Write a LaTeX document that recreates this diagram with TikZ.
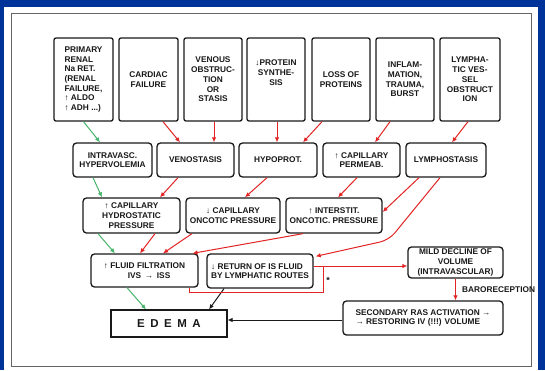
\documentclass[tikz,border=0pt]{standalone}
\usepackage{fontspec}
\setmainfont{Liberation Sans}
\usetikzlibrary{arrows.meta}
\definecolor{slideblue}{RGB}{0,51,153}
\definecolor{arrred}{RGB}{226,36,36}
\definecolor{arrgreen}{RGB}{70,180,105}
\definecolor{inkc}{RGB}{25,25,25}
\newcommand{\up}{↑}
\newcommand{\dn}{↓}
\newcommand{\ra}{→}
\tikzset{
  boxbase/.style={draw=inkc, line width=1.3pt, text=inkc, inner sep=1pt,
    font=\bfseries\fontsize{8.3}{9.7}\selectfont, align=center},
  causebox/.style={boxbase, rounded corners=2pt},
  stagebox/.style={boxbase, rounded corners=3.5pt},
  edemabox/.style={draw=inkc, line width=1.1pt, text=inkc,
    font=\bfseries\fontsize{11.5}{12}\selectfont},
  tip/.style={-{Latex[length=5pt,width=4.5pt]}},
  redarrow/.style={tip, draw=arrred, line width=1pt},
  greenarrow/.style={tip, draw=arrgreen, line width=1pt},
  blackarrow/.style={tip, draw=inkc, line width=1pt},
  redline/.style={draw=arrred, line width=1pt},
  lbl/.style={text=inkc, font=\bfseries\fontsize{8.3}{9.7}\selectfont, inner sep=0pt}
}
\begin{document}
\begin{tikzpicture}[x=1pt,y=-1pt]
% slide background and frame
\useasboundingbox (0,0) rectangle (545,370);
\fill[slideblue] (0,0) rectangle (545,370);
\fill[white] (4,7) rectangle (538,370);
\draw[gray!80!black, line width=0.8pt] (11,13) rectangle (531,366);

% causes
\node[causebox, minimum width=59pt, minimum height=83pt, align=left] (b1) at (83.5,79.5)
  {PRIMARY\\RENAL\\Na RET.\\(RENAL\\FAILURE,\\\up\ ALDO\\\up\ ADH ...)};
\node[causebox, minimum width=59pt, minimum height=83pt] (b2) at (148.5,79.5) {CARDIAC\\FAILURE};
\node[causebox, minimum width=58pt, minimum height=83pt] (b3) at (213,79.5) {VENOUS\\OBSTRUC-\\TION\\OR\\STASIS};
\node[causebox, minimum width=58pt, minimum height=83pt] (b4) at (276,79.5) {\dn PROTEIN\\SYNTHE-\\SIS\\[4pt]};
\node[causebox, minimum width=58pt, minimum height=83pt] (b5) at (341,79.5) {LOSS OF\\PROTEINS};
\node[causebox, minimum width=58pt, minimum height=83pt] (b6) at (405,79.5) {INFLAM-\\MATION,\\TRAUMA,\\BURST};
\node[causebox, minimum width=60pt, minimum height=83pt] (b7) at (470,79.5) {LYMPHA-\\TIC VES-\\SEL\\OBSTRUCT\\ION};

% mechanisms
\node[stagebox, minimum width=79pt, minimum height=34pt] (r2a) at (112.5,160) {INTRAVASC.\\HYPERVOLEMIA};
\node[stagebox, minimum width=77pt, minimum height=34pt] (r2b) at (195.5,160) {VENOSTASIS};
\node[stagebox, minimum width=78pt, minimum height=34pt] (r2c) at (278,160) {HYPOPROT.};
\node[stagebox, minimum width=77pt, minimum height=34pt] (r2d) at (361.5,160) {\up\ CAPILLARY\\PERMEAB.};
\node[stagebox, minimum width=80pt, minimum height=34pt] (r2e) at (446,160) {LYMPHOSTASIS};

% pressures
\node[stagebox, minimum width=97pt, minimum height=35pt] (r3a) at (131.5,215.5) {\up\ CAPILLARY\\HYDROSTATIC\\PRESSURE};
\node[stagebox, minimum width=94pt, minimum height=35pt] (r3b) at (233,215.5) {\dn\ CAPILLARY\\ONCOTIC PRESSURE};
\node[stagebox, minimum width=96pt, minimum height=35pt] (r3c) at (334,215.5) {\up\ INTERSTIT.\\ONCOTIC. PRESSURE};

% fluid balance
\node[stagebox, minimum width=107pt, minimum height=33pt, align=left] (filt) at (144.5,270.5)
  {\up\ FLUID FILTRATION\\\hspace*{24pt}IVS \,\ra\, ISS};
\node[stagebox, minimum width=106pt, minimum height=34pt, align=left] (ret) at (260,271)
  {\dn\ RETURN OF IS FLUID\\BY LYMPHATIC ROUTES};
\node[stagebox, minimum width=95pt, minimum height=31pt] (mild) at (455.5,262.5)
  {MILD DECLINE OF\\VOLUME\\(INTRAVASCULAR)};
\node[stagebox, minimum width=160pt, minimum height=34pt, align=left] (ras) at (423,318)
  {SECONDARY RAS ACTIVATION \ra\\\ra\ RESTORING IV (!!!) VOLUME};
\node[edemabox, minimum width=116pt, minimum height=27pt] (edema) at (169,323.5)
  {E\hspace{5.5pt}D\hspace{5.5pt}E\hspace{5.5pt}M\hspace{5.5pt}A};

\node[lbl, anchor=west] (baro) at (462,290) {BARORECEPTION};
\node[text=inkc, font=\bfseries\fontsize{9}{9}\selectfont, inner sep=0pt] (star) at (328,280) {*};

% causes -> mechanisms
\draw[greenarrow] (b1.south) -- ([xshift=-12.5pt]r2a.north);
\draw[redarrow] ([xshift=14.5pt]b2.south) -- ([xshift=-15.5pt]r2b.north);
\draw[redarrow] ([xshift=1pt]b3.south) -- ([xshift=18.5pt]r2b.north);
\draw[redarrow] ([xshift=1pt]b4.south) -- ([xshift=-1pt]r2c.north);
\draw[redarrow] ([xshift=-19pt]b5.south) -- ([xshift=25pt]r2c.north);
\draw[redarrow] ([xshift=-15pt]b6.south) -- ([xshift=13.5pt]r2d.north);
\draw[redarrow] ([xshift=-2pt]b7.south) -- ([xshift=6pt]r2e.north);

% mechanisms -> pressures
\draw[greenarrow] ([xshift=-19.5pt]r2a.south) -- ([xshift=-29.5pt]r3a.north);
\draw[redarrow] ([xshift=-17.5pt]r2b.south) -- ([xshift=28.5pt]r3a.north);
\draw[redarrow] ([xshift=-11pt]r2c.south) -- ([xshift=12pt]r3b.north);
\draw[redarrow] ([xshift=-4.5pt]r2d.south) -- ([xshift=4pt]r3c.north);
\draw[redarrow] ([xshift=-27pt]r2e.south) -- ([yshift=3.5pt]r3c.east);
\draw[redarrow, rounded corners=9pt] ([xshift=-6pt]r2e.south) -- (389,240)
  -- ([xshift=2pt,yshift=-3pt]ret.north east);

% pressures -> filtration
\draw[greenarrow] ([xshift=-33.5pt]r3a.south) -- ([xshift=-29.5pt]filt.north);
\draw[redarrow] ([xshift=23.5pt]r3a.south) -- ([xshift=-4.5pt]filt.north);
\draw[redarrow] ([xshift=-41pt]r3b.south) -- ([xshift=18.5pt]filt.north);
\draw[redarrow] ([xshift=-31pt]r3c.south) -- ([xshift=48pt]filt.north);

% outcome
\draw[greenarrow] ([xshift=-17.5pt]filt.south) -- ([xshift=-23pt]edema.north);
\draw[blackarrow] ([xshift=-36pt]ret.south) -- ([xshift=40pt]edema.north);
\coordinate (join) at (323,266);
\draw[redline] ([xshift=44.5pt]filt.south) |- (323,292) -- (join);
\draw[redarrow] ([yshift=5pt]ret.east) -- ([yshift=-3.5pt]mild.west);
\draw[redarrow] (mild.south) -- (mild.south |- ras.north);
\draw[blackarrow] ([yshift=-2pt]ras.west) -- ([yshift=-2pt]ras.west -| edema.east);
\end{tikzpicture}
\end{document}
